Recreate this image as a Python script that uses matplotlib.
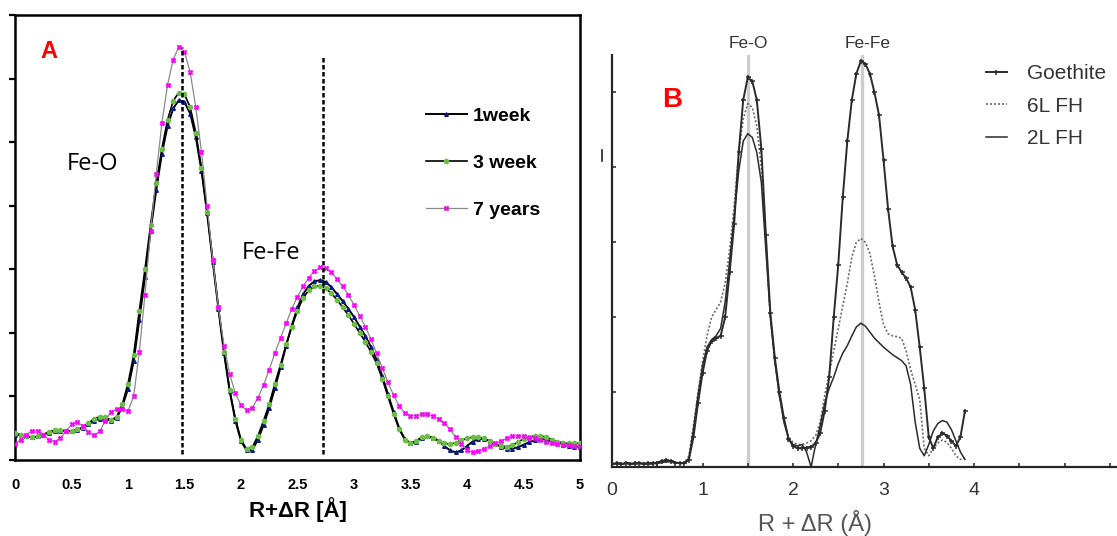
import numpy as np
import matplotlib
matplotlib.use("Agg")
import matplotlib.pyplot as plt
from matplotlib.lines import Line2D

# ---------------- data: panel A (|FT| of EXAFS, ageing series) ----------------
R_A = np.round(np.arange(0, 5.0001, 0.05), 2)

week1 = [0.40, 0.39, 0.37, 0.36, 0.37, 0.40, 0.43, 0.46, 0.46, 0.45,
         0.45, 0.47, 0.51, 0.56, 0.62, 0.65, 0.64, 0.62, 0.66, 0.84,
         1.12, 1.55, 2.20, 2.88, 3.60, 4.25, 4.82, 5.25, 5.53, 5.66,
         5.63, 5.45, 5.08, 4.55, 3.88, 3.12, 2.38, 1.68, 1.08, 0.62,
         0.30, 0.15, 0.16, 0.32, 0.55, 0.82, 1.13, 1.46, 1.80, 2.12,
         2.40, 2.61, 2.74, 2.81, 2.83, 2.80, 2.72, 2.61, 2.50, 2.38,
         2.25, 2.10, 1.95, 1.78, 1.58, 1.32, 1.04, 0.76, 0.50, 0.33,
         0.26, 0.29, 0.35, 0.37, 0.35, 0.30, 0.22, 0.15, 0.12, 0.15,
         0.22, 0.29, 0.33, 0.33, 0.30, 0.25, 0.21, 0.18, 0.18, 0.20,
         0.24, 0.28, 0.31, 0.33, 0.32, 0.29, 0.26, 0.24, 0.22, 0.21,
         0.21]

week3 = [0.42, 0.40, 0.37, 0.36, 0.37, 0.40, 0.44, 0.47, 0.47, 0.46,
         0.46, 0.48, 0.52, 0.58, 0.65, 0.68, 0.67, 0.63, 0.68, 0.88,
         1.20, 1.65, 2.35, 3.00, 3.70, 4.35, 4.90, 5.35, 5.65, 5.78,
         5.75, 5.55, 5.15, 4.60, 3.90, 3.15, 2.40, 1.70, 1.10, 0.65,
         0.32, 0.17, 0.20, 0.38, 0.62, 0.88, 1.20, 1.50, 1.82, 2.10,
         2.35, 2.55, 2.67, 2.73, 2.74, 2.70, 2.62, 2.52, 2.40, 2.28,
         2.14, 2.00, 1.86, 1.70, 1.52, 1.28, 1.00, 0.73, 0.48, 0.32,
         0.27, 0.30, 0.36, 0.37, 0.35, 0.30, 0.26, 0.25, 0.27, 0.31,
         0.34, 0.36, 0.36, 0.34, 0.30, 0.25, 0.22, 0.21, 0.23, 0.28,
         0.33, 0.36, 0.38, 0.38, 0.36, 0.32, 0.29, 0.27, 0.26, 0.26,
         0.26]

years7 = [0.25, 0.32, 0.40, 0.46, 0.46, 0.40, 0.32, 0.29, 0.34, 0.45,
          0.56, 0.59, 0.54, 0.44, 0.39, 0.45, 0.62, 0.76, 0.80, 0.80,
          0.77, 1.00, 1.70, 2.60, 3.60, 4.50, 5.30, 5.90, 6.30, 6.50,
          6.42, 6.10, 5.55, 4.85, 4.00, 3.15, 2.40, 1.80, 1.35, 1.05,
          0.86, 0.78, 0.82, 0.98, 1.18, 1.42, 1.68, 1.92, 2.15, 2.38,
          2.57, 2.73, 2.87, 2.97, 3.03, 3.02, 2.95, 2.85, 2.73, 2.60,
          2.44, 2.27, 2.10, 1.90, 1.68, 1.45, 1.22, 1.02, 0.85, 0.74,
          0.69, 0.70, 0.72, 0.72, 0.69, 0.64, 0.58, 0.48, 0.36, 0.25,
          0.16, 0.12, 0.14, 0.18, 0.22, 0.26, 0.30, 0.34, 0.37, 0.38,
          0.37, 0.35, 0.34, 0.31, 0.28, 0.26, 0.25, 0.24, 0.23, 0.22,
          0.22]

labels_A = ["1week", "3 week", "7 years"]
shells_A = [1.48, 2.73]
ticks_A = [0, 0.5, 1, 1.5, 2, 2.5, 3, 3.5, 4, 4.5, 5]
ticklabels_A = ["0", "0.5", "1", "1.5", "2", "2.5", "3", "3.5", "4", "4.5", "5"]

# ---------------- data: panel B (reference minerals) ----------------
R_B = np.round(np.arange(0, 3.9001, 0.05), 2)

goethite = [0.04, 0.05, 0.04, 0.05, 0.04, 0.05, 0.05, 0.04, 0.05, 0.05,
            0.06, 0.08, 0.09, 0.08, 0.06, 0.05, 0.05, 0.10, 0.40, 0.85,
            1.25, 1.55, 1.68, 1.72, 1.75, 2.00, 2.60, 3.25, 4.20, 4.90,
            5.20, 5.15, 4.90, 4.25, 3.10, 2.05, 1.45, 1.00, 0.65, 0.38,
            0.28, 0.25, 0.25, 0.26, 0.27, 0.32, 0.45, 0.75, 1.20, 2.00,
            2.70, 3.60, 4.35, 4.90, 5.25, 5.42, 5.38, 5.25, 5.00, 4.70,
            4.10, 3.45, 2.95, 2.70, 2.60, 2.52, 2.40, 2.10, 1.60, 1.05,
            0.40, 0.25, 0.40, 0.45, 0.42, 0.35, 0.28, 0.40, 0.75]

fh6l = [0.04, 0.04, 0.05, 0.04, 0.05, 0.04, 0.04, 0.05, 0.04, 0.05,
        0.05, 0.07, 0.08, 0.07, 0.05, 0.05, 0.05, 0.15, 0.55, 1.00,
        1.40, 1.75, 2.00, 2.10, 2.20, 2.45, 2.90, 3.50, 4.20, 4.65,
        4.85, 4.80, 4.55, 4.00, 3.00, 2.00, 1.40, 0.95, 0.60, 0.40,
        0.33, 0.30, 0.30, 0.32, 0.35, 0.42, 0.60, 0.95, 1.25, 1.55,
        1.85, 2.15, 2.45, 2.80, 3.00, 3.05, 3.00, 2.85, 2.55, 2.20,
        1.90, 1.78, 1.75, 1.74, 1.72, 1.55, 1.30, 1.10, 0.90, 0.25,
        0.15, 0.25, 0.32, 0.36, 0.33, 0.25, 0.15, 0.10, 0.12]

fh2l = [0.05, 0.04, 0.04, 0.05, 0.05, 0.04, 0.05, 0.05, 0.04, 0.04,
        0.05, 0.06, 0.07, 0.07, 0.06, 0.05, 0.05, 0.12, 0.50, 0.95,
        1.35, 1.60, 1.70, 1.75, 1.85, 2.20, 2.75, 3.35, 3.95, 4.35,
        4.45, 4.40, 4.20, 3.80, 2.90, 2.00, 1.40, 0.95, 0.60, 0.38,
        0.30, 0.28, 0.30, 0.20, 0.00, 0.30, 0.55, 0.85, 1.05, 1.20,
        1.38, 1.52, 1.62, 1.75, 1.87, 1.92, 1.88, 1.80, 1.72, 1.66,
        1.60, 1.55, 1.50, 1.46, 1.42, 1.35, 1.10, 0.60, 0.25, 0.15,
        0.30, 0.48, 0.58, 0.62, 0.60, 0.50, 0.35, 0.20, 0.10]

labels_B = ["Goethite", "6L FH", "2L FH"]
shells_B = [1.50, 2.76]
ticks_B = [0, 0.5, 1, 1.5, 2, 2.5, 3, 3.5, 4, 4.5, 5, 5.5]
ticklabels_B = ["0", "", "1", "", "2", "", "3", "", "4", "", "", ""]

W, H = 1117, 536
fig = plt.figure(figsize=(W / 100, H / 100), dpi=100)
fig.patch.set_facecolor("white")


def fx(px):
    return px / W


def fy(py):
    return 1 - py / H


# ================= panel A =================
axA = fig.add_axes([fx(15), fy(460), fx(565), 445 / H])
axA.plot(R_A, week1, color="black", lw=1.4, marker="^", ms=2.6,
         mfc="#0a1a8c", mec="#0a1a8c", label=labels_A[0], zorder=3)
axA.plot(R_A, week3, color="black", lw=1.2, marker="o", ms=3.0,
         mfc="#6cbd45", mec="#6cbd45", label=labels_A[1], zorder=3)
axA.plot(R_A, years7, color="#8a8a8a", lw=0.9, marker="X", ms=3.4,
         mfc="#ff00ff", mec="#ff00ff", mew=0.5, label=labels_A[2], zorder=3)

axA.vlines(shells_A[0], 0.1, 6.5, colors="black", linestyles=(0, (1.8, 1.0)),
           lw=1.8, zorder=5)
axA.vlines(shells_A[1], 0.1, 6.37, colors="black", linestyles=(0, (1.8, 1.0)),
           lw=1.8, zorder=5)

axA.set_xlim(0, 5)
axA.set_ylim(0, 7)
axA.set_xticks(ticks_A)
axA.set_xticklabels(ticklabels_A, fontsize=10.5, fontweight="bold",
                    family="Liberation Sans")
axA.set_yticks(range(0, 8))
axA.set_yticklabels([])
axA.tick_params(axis="x", length=0, pad=13)
axA.tick_params(axis="y", direction="out", length=4, width=1.6)
for s in axA.spines.values():
    s.set_linewidth(1.8)
axA.set_xlabel("R+ΔR [Å]", fontsize=16, fontweight="bold",
               family="Liberation Sans", va="top")
axA.xaxis.set_label_coords(0.5, -0.083)

axA.text(fx(49), fy(52), "A", transform=fig.transFigure, color="#ff0000",
         fontsize=17, fontweight="bold", family="Liberation Sans",
         ha="center", va="center")
axA.text(fx(93), fy(164), "Fe-O", transform=fig.transFigure, color="black",
         fontsize=17, family="Open Sans", ha="center", va="center")
axA.text(fx(271), fy(253), "Fe-Fe", transform=fig.transFigure, color="black",
         fontsize=17, family="Open Sans", ha="center", va="center")

legA = axA.legend(loc="upper left", bbox_to_anchor=(fx(426), fy(107)),
                  bbox_transform=fig.transFigure, frameon=False, numpoints=1,
                  borderpad=0, borderaxespad=0, handlelength=2.1,
                  handletextpad=0.3, labelspacing=1.52,
                  prop={"family": "Liberation Sans", "weight": "bold",
                        "size": 14})

# ================= panel B =================
ink = "#2b2b2b"
axB = fig.add_axes([fx(612), fy(467), fx(505), 412 / H])
for xs in shells_B:
    axB.axvline(xs, color="#cdcdcd", lw=2.4, zorder=0)
axB.plot(R_B, goethite, color=ink, lw=1.4, marker="+", ms=3.6, mew=1.1,
         label=labels_B[0], zorder=3)
axB.plot(R_B, fh6l, color="#6a6a6a", lw=1.2, linestyle=(0, (1.2, 1.2)),
         label=labels_B[1], zorder=2)
axB.plot(R_B, fh2l, color=ink, lw=1.1, label=labels_B[2], zorder=2)

axB.set_xlim(0, 5.58)
axB.set_ylim(0, 5.5)
axB.set_xticks(ticks_B)
axB.set_xticklabels(ticklabels_B, fontsize=14, color="#333333",
                    family="Liberation Sans")
axB.set_yticks(range(0, 6))
axB.set_yticklabels([])
axB.tick_params(axis="both", direction="in", length=3, width=1.2,
                color="#333333")
axB.tick_params(axis="x", pad=11)
for side in ("top", "right"):
    axB.spines[side].set_visible(False)
for side in ("left", "bottom"):
    axB.spines[side].set_linewidth(1.6)
    axB.spines[side].set_color("#262626")
axB.set_xlabel("R + ΔR (Å)", fontsize=17, color="#555555",
               family="Liberation Sans", va="top")
axB.xaxis.set_label_coords(fx(815 - 612) / fx(505), -0.105)

axB.text(fx(748), fy(43), "Fe-O", transform=fig.transFigure, color="#333333",
         fontsize=12.5, family="Liberation Sans", ha="center", va="center")
axB.text(fx(868), fy(43), "Fe-Fe", transform=fig.transFigure, color="#333333",
         fontsize=12.5, family="Liberation Sans", ha="center", va="center")
axB.text(fx(672), fy(100), "B", transform=fig.transFigure, color="#ff0000",
         fontsize=20, fontweight="bold", family="Liberation Sans",
         ha="center", va="center")

legB = axB.legend(loc="upper left", bbox_to_anchor=(fx(986), fy(64)),
                  bbox_transform=fig.transFigure, frameon=False, numpoints=1,
                  borderpad=0, borderaxespad=0, handlelength=1.0,
                  handletextpad=0.95, labelspacing=0.66,
                  prop={"family": "Liberation Sans", "size": 15})
for t in legB.get_texts():
    t.set_color("#333333")

# clipped label remnant at the left edge of panel B
fig.add_artist(Line2D([fx(602), fx(602)], [fy(150), fy(161)], color="#222222",
                      lw=1.2))

fig.savefig("out.png", dpi=100, facecolor="white")
